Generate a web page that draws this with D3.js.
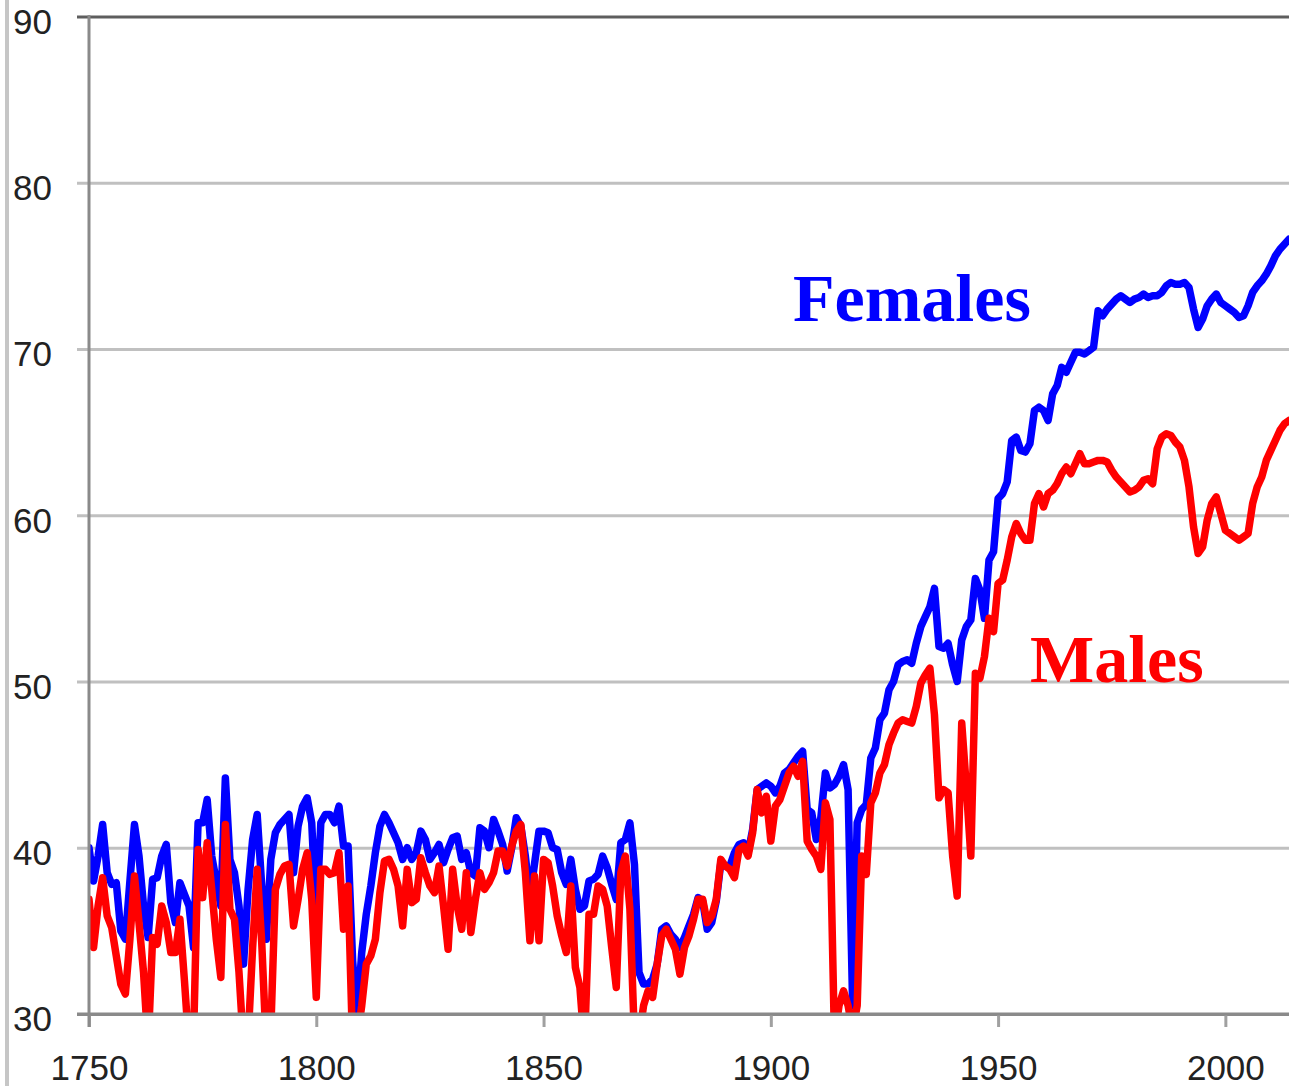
<!DOCTYPE html>
<html>
<head>
<meta charset="utf-8">
<script src="https://cdn.jsdelivr.net/npm/d3@7"></script>
<style>
  html, body { margin: 0; padding: 0; background: #fff; }
  svg { display: block; }
</style>
</head>
<body>
<svg id="chart" width="1289" height="1086"></svg>
<script>
// ---- data ----
const years = d3.range(1750, 2015);

const females = [
  40.0, 38.0, 39.5, 41.4, 38.5, 37.8, 37.9, 35.0, 34.5, 38.0,
  41.4, 39.5, 36.5, 34.6, 38.1, 38.2, 39.5, 40.2, 36.7, 35.5,
  37.9, 37.2, 36.5, 34.0, 41.5, 41.5, 42.9, 39.5, 38.0, 36.5,
  44.2, 39.3, 38.5, 36.5, 33.0, 37.5, 40.5, 42.0, 37.7, 34.5,
  39.3, 40.9, 41.4, 41.7, 42.0, 38.5, 41.3, 42.5, 43.0, 41.5,
  35.7, 41.5, 42.0, 42.0, 41.5, 42.5, 40.1, 40.1, 33.2, 29.8,
  33.7, 36.0, 37.7, 39.7, 41.3, 42.0, 41.5, 40.9, 40.3, 39.3,
  40.0, 39.3, 39.7, 41.0, 40.5, 39.3, 39.7, 40.2, 39.1, 39.9,
  40.6, 40.7, 39.3, 39.7, 38.5, 38.3, 41.2, 41.0, 40.0, 41.7,
  41.0, 40.2, 38.6, 40.0, 41.8, 41.3, 39.5, 37.0, 39.0, 41.0,
  41.0, 40.9, 40.0, 39.9, 38.5, 37.8, 39.3, 37.5, 36.3, 36.5,
  38.0, 38.1, 38.4, 39.5, 38.8, 37.8, 36.9, 40.3, 40.5, 41.5,
  39.0, 32.5, 31.8, 31.8, 32.1, 33.0, 35.1, 35.3, 34.8, 34.5,
  34.0, 34.6, 35.3, 36.0, 37.0, 36.8, 35.1, 35.5, 36.8, 39.1,
  38.9, 38.9, 39.7, 40.2, 40.3, 39.7, 41.1, 43.5, 43.7, 43.9,
  43.7, 43.3, 43.7, 44.5, 44.7, 45.1, 45.5, 45.8, 42.3, 42.1,
  40.5, 41.8, 44.5, 43.6, 43.8, 44.3, 45.0, 43.5, 30.5, 41.5,
  42.3, 42.6, 45.4, 46.0, 47.7, 48.1, 49.5, 50.0, 51.0, 51.2,
  51.3, 51.1, 52.3, 53.3, 53.9, 54.5, 55.6, 52.1, 52.0, 52.3,
  51.0, 50.0, 52.5, 53.3, 53.7, 56.2, 55.5, 53.8, 57.3, 57.8,
  61.0, 61.3, 62.0, 64.5, 64.7, 63.9, 63.8, 64.3, 66.3, 66.5,
  66.3, 65.7, 67.3, 67.8, 68.9, 68.6, 69.2, 69.8, 69.8, 69.7,
  69.9, 70.1, 72.3, 72.0, 72.4, 72.7, 73.0, 73.2, 73.0, 72.8,
  73.0, 73.1, 73.3, 73.1, 73.2, 73.2, 73.4, 73.8, 74.0, 73.9,
  73.9, 74.0, 73.7, 72.4, 71.3, 71.8, 72.6, 73.0, 73.3, 72.8,
  72.6, 72.4, 72.2, 71.9, 72.0, 72.6, 73.4, 73.8, 74.1, 74.5,
  75.0, 75.6, 76.0, 76.3, 76.6
];

const males = [
  36.9, 34.0, 36.5, 38.2, 35.9, 35.2, 33.5, 31.8, 31.2, 34.5,
  38.3, 35.5, 32.5, 28.0, 34.6, 34.2, 36.5, 35.5, 33.7, 33.7,
  35.7, 32.0, 28.0, 28.5, 39.9, 37.0, 40.3, 37.5, 34.5, 32.2,
  41.4, 36.3, 35.7, 32.5, 28.0, 28.5, 34.0, 38.7, 34.3, 28.0,
  29.0, 37.5, 38.4, 38.9, 39.0, 35.3, 36.9, 38.7, 39.7, 36.9,
  31.0, 38.7, 38.7, 38.4, 38.5, 39.7, 35.1, 37.7, 28.0, 28.5,
  30.5, 33.0, 33.5, 34.5, 37.3, 39.2, 39.3, 38.7, 37.7, 35.3,
  38.7, 36.7, 36.9, 39.4, 38.5, 37.7, 37.3, 38.9, 36.5, 33.9,
  38.7, 36.5, 35.1, 38.5, 34.9, 36.9, 38.5, 37.5, 37.9, 38.5,
  39.8, 39.8, 38.9, 40.1, 41.0, 41.4, 38.5, 34.4, 38.3, 34.4,
  39.3, 39.1, 37.7, 35.9, 34.7, 33.7, 37.7, 32.8, 31.6, 28.0,
  36.0, 36.0, 37.7, 37.5, 36.5, 34.0, 31.6, 38.5, 39.5, 36.3,
  28.5, 28.5, 30.5, 31.4, 31.0, 33.0, 34.7, 35.1, 34.5, 33.9,
  32.4, 34.0, 34.7, 35.7, 36.9, 36.9, 35.5, 35.9, 36.9, 39.3,
  38.9, 38.7, 38.2, 39.9, 40.1, 39.5, 40.9, 43.5, 42.1, 43.1,
  40.4, 42.5, 42.9, 43.7, 44.5, 44.9, 44.3, 45.2, 40.4, 39.9,
  39.5, 38.7, 42.7, 41.7, 28.5, 30.5, 31.4, 30.5, 29.0, 30.5,
  39.5, 38.4, 42.7, 43.3, 44.5, 45.0, 46.2, 46.9, 47.5, 47.7,
  47.6, 47.5, 48.5, 49.9, 50.4, 50.8, 48.0, 43.0, 43.5, 43.3,
  39.5, 37.1, 47.5, 43.7, 39.5, 50.5, 50.2, 51.5, 53.8, 53.0,
  55.9, 56.1, 57.3, 58.7, 59.5, 58.9, 58.5, 58.5, 60.7, 61.3,
  60.5, 61.3, 61.5, 61.9, 62.5, 62.9, 62.5, 63.1, 63.7, 63.1,
  63.1, 63.2, 63.3, 63.3, 63.2, 62.7, 62.3, 62.0, 61.7, 61.4,
  61.5, 61.7, 62.1, 62.2, 61.9, 64.0, 64.7, 64.9, 64.8, 64.4,
  64.1, 63.3, 61.7, 59.3, 57.7, 58.1, 59.7, 60.7, 61.1, 60.1,
  59.1, 58.9, 58.7, 58.5, 58.7, 58.9, 60.7, 61.7, 62.3, 63.3,
  63.9, 64.5, 65.1, 65.5, 65.7
];

const yTicks = [30, 40, 50, 60, 70, 80, 90];
const xTicks = [1750, 1800, 1850, 1900, 1950, 2000];
const seriesLabels = ["Females", "Males"];

// ---- layout ----
const W = 1289, H = 1086;
const plotL = 89, plotR = 1289, plotT = 16.5, plotB = 1014;

const svg = d3.select("#chart");

const x = d3.scaleLinear().domain([1750, 2014]).range([plotL, plotR]);
const y = d3.scaleLinear().domain([30, 90]).range([plotB, plotT]);

// outer frame bar at left
svg.append("rect").attr("x", 5).attr("y", 0).attr("width", 4).attr("height", H)
  .attr("fill", "#c6c6c6");

// y axis with gridlines
const yAxis = svg.append("g")
  .attr("transform", `translate(${plotL},0)`)
  .call(d3.axisLeft(y).tickValues(yTicks).tickSize(12).tickPadding(25).tickFormat(d3.format("d")));
yAxis.select(".domain").remove();
yAxis.selectAll(".tick line")
  .attr("x1", -12).attr("x2", plotR - plotL)
  .attr("stroke", d => d === 90 ? "#5e5e5e" : (d === 30 ? "#8a8a8a" : "#c0c0c0"))
  .attr("stroke-width", 3);
yAxis.selectAll(".tick text")
  .attr("dy", "0.48em")
  .attr("fill", "#222")
  .style("font-family", "'Liberation Sans', Arial, sans-serif")
  .style("font-size", "35px");

// data lines
svg.append("clipPath").attr("id", "plotClip")
  .append("rect").attr("x", plotL).attr("y", 0).attr("width", plotR - plotL).attr("height", plotB - 1);

const line = d3.line()
  .x((d, i) => x(years[i]))
  .y(d => y(d));

const lines = svg.append("g").attr("clip-path", "url(#plotClip)");
lines.append("path").datum(females)
  .attr("d", line).attr("fill", "none")
  .attr("stroke", "#0000ff").attr("stroke-width", 7.5)
  .attr("stroke-linejoin", "round").attr("stroke-linecap", "round");
lines.append("path").datum(males)
  .attr("d", line).attr("fill", "none")
  .attr("stroke", "#ff0000").attr("stroke-width", 7.5)
  .attr("stroke-linejoin", "round").attr("stroke-linecap", "round");

// x axis
const xAxis = svg.append("g")
  .attr("transform", `translate(0,${plotB})`)
  .call(d3.axisBottom(x).tickValues(xTicks).tickSize(13).tickPadding(28).tickFormat(d3.format("d")));
xAxis.select(".domain").remove();
xAxis.selectAll(".tick line").attr("stroke", "#a0a0a0").attr("stroke-width", 3);
xAxis.selectAll(".tick text")
  .attr("fill", "#222")
  .style("font-family", "'Liberation Sans', Arial, sans-serif")
  .style("font-size", "35px");

// axis lines
svg.append("line").attr("x1", plotL - 12).attr("x2", plotR).attr("y1", plotB).attr("y2", plotB)
  .attr("stroke", "#8a8a8a").attr("stroke-width", 3);
svg.append("line").attr("x1", plotL).attr("x2", plotL).attr("y1", plotT - 1.5).attr("y2", plotB + 13)
  .attr("stroke", "#8a8a8a").attr("stroke-width", 3);

// series labels
svg.append("text").attr("x", 793).attr("y", 321)
  .attr("fill", "#0000ff")
  .style("font-family", "'Liberation Serif', 'Times New Roman', serif")
  .style("font-weight", "bold").style("font-size", "68px")
  .text(seriesLabels[0]);
svg.append("text").attr("x", 1030).attr("y", 682)
  .attr("fill", "#ff0000")
  .style("font-family", "'Liberation Serif', 'Times New Roman', serif")
  .style("font-weight", "bold").style("font-size", "68px")
  .text(seriesLabels[1]);
</script>
</body>
</html>
